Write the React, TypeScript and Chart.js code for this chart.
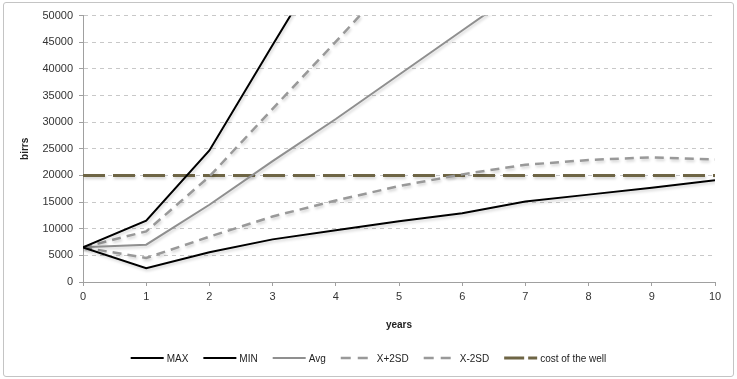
import React, { useEffect, useRef } from "react";
import { Chart, registerables } from "chart.js";

Chart.register(...registerables);

const years = [0, 1, 2, 3, 4, 5, 6, 7, 8, 9, 10];
const maxValues = [6500, 11500, 24700, 44500, 64000, 85000, 108000, 133000, 160000, 190000, 222000];
const minValues = [6500, 2600, 5600, 8000, 9700, 11400, 12900, 15100, 16400, 17700, 19100];
const avgValues = [6500, 7000, 14500, 22700, 30600, 38900, 47200, 55500, 63800, 72100, 80400];
const plus2sdValues = [6500, 9500, 19800, 32500, 45100, 58000, 71000, 84000, 97000, 110000, 123000];
const minus2sdValues = [6500, 4500, 8500, 12300, 15300, 18000, 20200, 22000, 22900, 23400, 23000];
const costValues = [20000, 20000, 20000, 20000, 20000, 20000, 20000, 20000, 20000, 20000, 20000];
const seriesLabels = ["MAX", "MIN", "Avg", "X+2SD", "X-2SD", "cost of the well"];

const FONT = "'Liberation Sans', 'DejaVu Sans', sans-serif";

const shadowPlugin = {
  id: "lineShadow",
  beforeDatasetDraw(chart: any) {
    const ctx = chart.ctx;
    ctx.save();
    ctx.shadowColor = "rgba(0,0,0,0.18)";
    ctx.shadowBlur = 3;
    ctx.shadowOffsetX = 1;
    ctx.shadowOffsetY = 2;
  },
  afterDatasetDraw(chart: any) {
    chart.ctx.restore();
  },
};

const legendPlugin = {
  id: "lineLegend",
  afterDraw(chart: any) {
    const ctx = chart.ctx;
    const sampleW = 33;
    const textGap = 3;
    const itemGap = 15;
    ctx.save();
    ctx.font = `10px ${FONT}`;
    const items = chart.data.datasets.map((ds: any) => ({
      ds,
      w: sampleW + textGap + ctx.measureText(ds.label).width,
    }));
    const total = items.reduce((a: number, it: any) => a + it.w, 0) + itemGap * (items.length - 1);
    let x = (chart.width - total) / 2;
    const y = chart.height - 18;
    items.forEach((it: any) => {
      const ds = it.ds;
      ctx.beginPath();
      ctx.setLineDash(ds.borderDash && ds.borderDash.length ? (ds.label === seriesLabels[5] ? [20, 4] : [10, 7]) : []);
      ctx.lineWidth = ds.borderWidth;
      ctx.strokeStyle = ds.borderColor;
      ctx.moveTo(x, y);
      ctx.lineTo(x + sampleW, y);
      ctx.stroke();
      ctx.setLineDash([]);
      ctx.fillStyle = "#222";
      ctx.textBaseline = "middle";
      ctx.textAlign = "left";
      ctx.fillText(ds.label, x + sampleW + textGap, y + 1);
      x += it.w + itemGap;
    });
    ctx.restore();
  },
};

export default function App() {
  const canvasRef = useRef<HTMLCanvasElement | null>(null);

  useEffect(() => {
    document.body.style.margin = "0";
    const toPts = (vals: number[]) => years.map((x, i) => ({ x, y: vals[i] }));
    const mk = (label: string, vals: number[], color: string, width: number, dash: number[]) => ({
      label,
      data: toPts(vals),
      borderColor: color,
      backgroundColor: color,
      borderWidth: width,
      borderDash: dash,
      pointRadius: 0,
      tension: 0,
      fill: false,
    });
    const chart = new Chart(canvasRef.current as HTMLCanvasElement, {
      type: "line",
      data: {
        datasets: [
          mk(seriesLabels[0], maxValues, "#000000", 2, []),
          mk(seriesLabels[1], minValues, "#000000", 2, []),
          mk(seriesLabels[2], avgValues, "#8f8f8f", 2, []),
          mk(seriesLabels[3], plus2sdValues, "#999999", 2.5, [9, 6]),
          mk(seriesLabels[4], minus2sdValues, "#999999", 2.5, [9, 6]),
          mk(seriesLabels[5], costValues, "#6e6545", 3, [22, 8]),
        ],
      },
      options: {
        animation: false,
        responsive: false,
        maintainAspectRatio: false,
        layout: { padding: { left: 0, right: 18, top: 12, bottom: 34 } },
        plugins: {
          tooltip: { enabled: false },
          legend: { display: false },
        },
        scales: {
          x: {
            type: "linear",
            min: 0,
            max: 10,
            afterFit: (s: any) => {
              s.height = 60;
            },
            ticks: { stepSize: 1, padding: 4, color: "#333", font: { family: FONT, size: 11 } },
            grid: {
              drawOnChartArea: false,
              drawTicks: true,
              tickLength: 4,
              tickColor: "#a0a0a0",
            },
            border: { color: "#a0a0a0", width: 1 },
            title: {
              display: true,
              text: "years",
              color: "#222",
              font: { family: FONT, size: 10, weight: "bold" },
              padding: { top: 0, bottom: 11 },
            },
          },
          y: {
            min: 0,
            max: 50000,
            afterFit: (s: any) => {
              s.width = 79;
            },
            ticks: {
              stepSize: 5000,
              padding: 6,
              color: "#333",
              font: { family: FONT, size: 11 },
              callback: (v: any) => String(v),
            },
            grid: {
              color: "#c8c8c8",
              tickLength: 4,
              tickColor: "#a0a0a0",
              tickBorderDash: [],
            },
            border: { color: "#a0a0a0", width: 1, dash: [4, 4] },
            title: {
              display: true,
              text: "birrs",
              color: "#222",
              font: { family: FONT, size: 10, weight: "bold" },
              padding: { top: 15, bottom: 0 },
            },
          },
        },
      } as any,
      plugins: [shadowPlugin, legendPlugin],
    });
    return () => chart.destroy();
  }, []);

  return (
    <div style={{ padding: "2px 3px", width: 737, height: 379, boxSizing: "border-box", background: "#fff" }}>
      <div
        style={{
          border: "1px solid #c4c4c4",
          borderRadius: 3,
          width: 731,
          height: 375,
          boxSizing: "border-box",
          overflow: "hidden",
        }}
      >
        <canvas ref={canvasRef} width={729} height={373} style={{ display: "block" }} />
      </div>
    </div>
  );
}
